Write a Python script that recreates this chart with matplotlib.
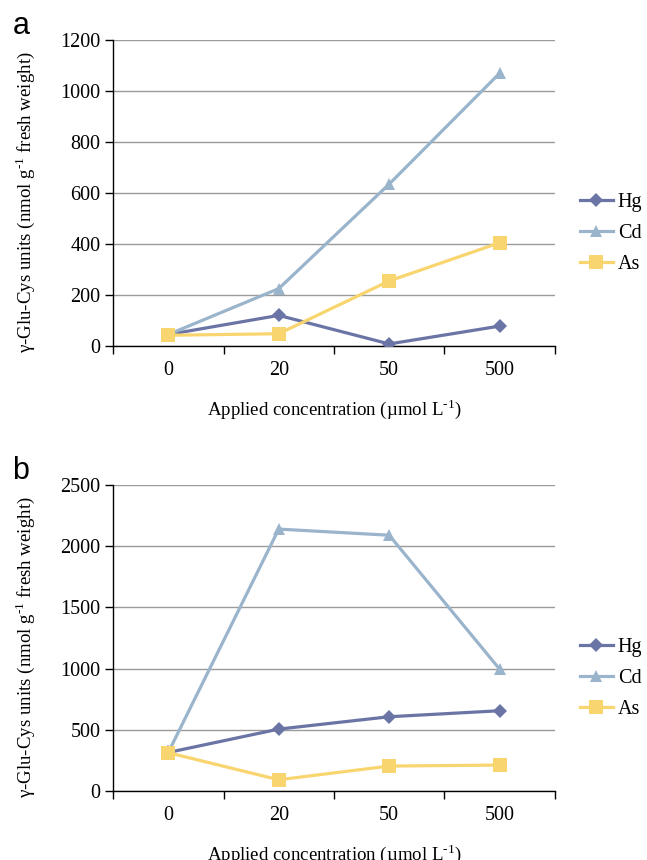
import matplotlib.pyplot as plt

plt.rcParams['font.family'] = ['Liberation Serif', 'DejaVu Serif']
plt.rcParams['mathtext.fontset'] = 'custom'
plt.rcParams['mathtext.rm'] = 'Liberation Serif'

concentraciones = ['0', '20', '50', '500']
series = ['Hg', 'Cd', 'As']

# panel a
hg_a = [45, 120, 8, 78]
cd_a = [45, 225, 635, 1070]
as_a = [42, 48, 255, 405]

# panel b
hg_b = [315, 506, 607, 656]
cd_b = [315, 2140, 2090, 995]
as_b = [313, 92, 204, 212]

colores = {'Hg': '#6A75A6', 'Cd': '#9AB4CC', 'As': '#F8D56E'}
marcadores = {'Hg': 'D', 'Cd': '^', 'As': 's'}
tam_marcador = {'Hg': 7, 'Cd': 9, 'As': 9.5}

fig = plt.figure(figsize=(6.47, 8.6), dpi=100)
ax_a = fig.add_axes([0.1747, 0.5977, 0.683, 0.3558])
ax_b = fig.add_axes([0.1747, 0.0802, 0.683, 0.3558])


def dibujar(ax, datos, ymax, paso, letra):
    x = list(range(len(concentraciones)))
    for nombre, valores in zip(series, datos):
        ax.plot(x, valores, color=colores[nombre], marker=marcadores[nombre],
                markersize=tam_marcador[nombre], linewidth=2.3,
                markeredgewidth=0, label=nombre, zorder=3)
    ax.set_xlim(-0.5, len(concentraciones) - 0.5)
    ax.set_ylim(0, ymax)
    ax.set_yticks(range(0, ymax + 1, paso))
    ax.yaxis.grid(True, color='#9a9a9a', linewidth=1)
    ax.set_axisbelow(True)
    ax.set_xticks([i - 0.5 for i in range(len(concentraciones) + 1)])
    ax.set_xticklabels([])
    ax.set_xticks(x, minor=True)
    ax.set_xticklabels(concentraciones, minor=True)
    ax.tick_params(axis='x', which='major', direction='out', length=6, width=1)
    ax.tick_params(axis='x', which='minor', length=0, pad=11, labelsize=14.5)
    ax.tick_params(axis='y', direction='out', length=6, width=1, labelsize=14.5, pad=3)
    ax.spines['top'].set_visible(False)
    ax.spines['right'].set_visible(False)
    ax.spines['left'].set_linewidth(1)
    ax.spines['bottom'].set_linewidth(1)
    ax.set_xlabel('Applied concentration (\u00b5mol L$^{\\text{-1}}$)', fontsize=13.6, labelpad=12)
    ax.set_ylabel('\u03b3-Glu-Cys units (nmol g$^{\\text{-1}}$ fresh weight)', fontsize=13.6)
    ax.yaxis.set_label_coords(-0.171, 0.47)
    ax.legend(loc='center left', bbox_to_anchor=(1.056, 0.368), frameon=False,
              fontsize=14.5, handlelength=1.64, labelspacing=0.58, handletextpad=0.25,
              borderpad=0, borderaxespad=0)
    ax.text(-0.228, 1.021, letra, transform=ax.transAxes, fontsize=22,
            family=['Liberation Sans', 'DejaVu Sans'], va='baseline', ha='left')


dibujar(ax_a, [hg_a, cd_a, as_a], 1200, 200, 'a')
dibujar(ax_b, [hg_b, cd_b, as_b], 2500, 500, 'b')

fig.savefig('out.png', dpi=100)
